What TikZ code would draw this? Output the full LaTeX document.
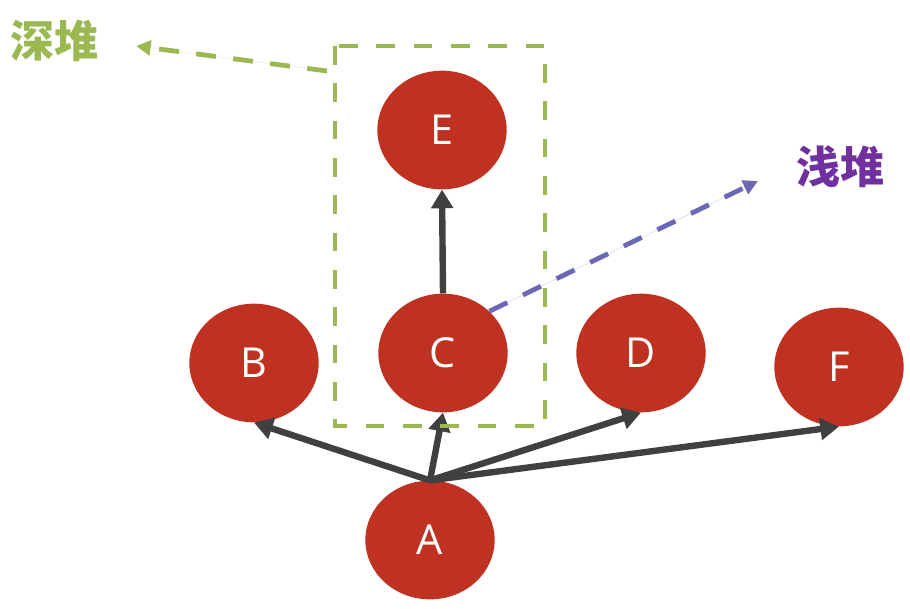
\documentclass[tikz,border=0pt]{standalone}
\usepackage{fontspec}
\setsansfont{Open Sans}
\newfontfamily\cjk{Noto Sans CJK SC}
\usetikzlibrary{arrows.meta, shapes.geometric}
\definecolor{cred}{HTML}{BF3222}
\definecolor{cdark}{HTML}{404040}
\definecolor{cgreen}{HTML}{9BB852}
\definecolor{cpurple}{HTML}{6C68B4}
\definecolor{cviolet}{HTML}{7030A0}
\tikzset{
  every picture/.style={font=\sffamily},
  ball/.style={ellipse, fill=cred, text=white, inner sep=0pt,
    minimum width=97pt, minimum height=89pt, font=\sffamily\fontsize{31}{31}\selectfont},
  link/.style={-{Triangle[length=14pt, width=16pt]}, draw=cdark, line width=4.8pt},
  hint/.style={-{Triangle[length=11pt, width=11pt]}, line width=3.6pt, dash pattern=on 15pt off 13pt},
  heap/.style={font=\cjk\bfseries\fontsize{33}{33}\selectfont},
}

\begin{document}
\begin{tikzpicture}[x=0.75pt, y=-0.75pt]
  \useasboundingbox (0,0) rectangle (910,608);
  % the heap objects
  \node[ball] (A) at (430,540) {A};
  \node[ball] (B) at (254,363) {B};
  \node[ball] (C) at (443,353) {C};
  \node[ball] (D) at (641,353) {D};
  \node[ball] (F) at (839,367) {F};
  \node[ball] (E) at (442,130) {E};
  % references
  \foreach \t in {B,C,D,F}
    \draw[link] (A.north) -- (\t.south);
  \draw[link] (C.north) -- (E.south);
  % deep heap: the dashed frame round C and E
  \draw[cgreen, line width=3.4pt, dash pattern=on 14pt off 14pt]
    (335,46) rectangle (545,426);
  \node[heap, text=cgreen] (deep) at (54,41) {深堆};
  \coordinate (deepfrom) at (327,71);
  \coordinate (deepto) at (136,46);
  \draw[hint, draw=cgreen, fill=cgreen] (deepfrom) -- (deepto);
  % shallow heap: C alone
  \node[heap, text=cviolet] (shallow) at (840,167) {浅堆};
  \coordinate (shallowto) at (758,181);
  \draw[hint, draw=cpurple, fill=cpurple] (C.42) -- (shallowto);
\end{tikzpicture}
\end{document}
